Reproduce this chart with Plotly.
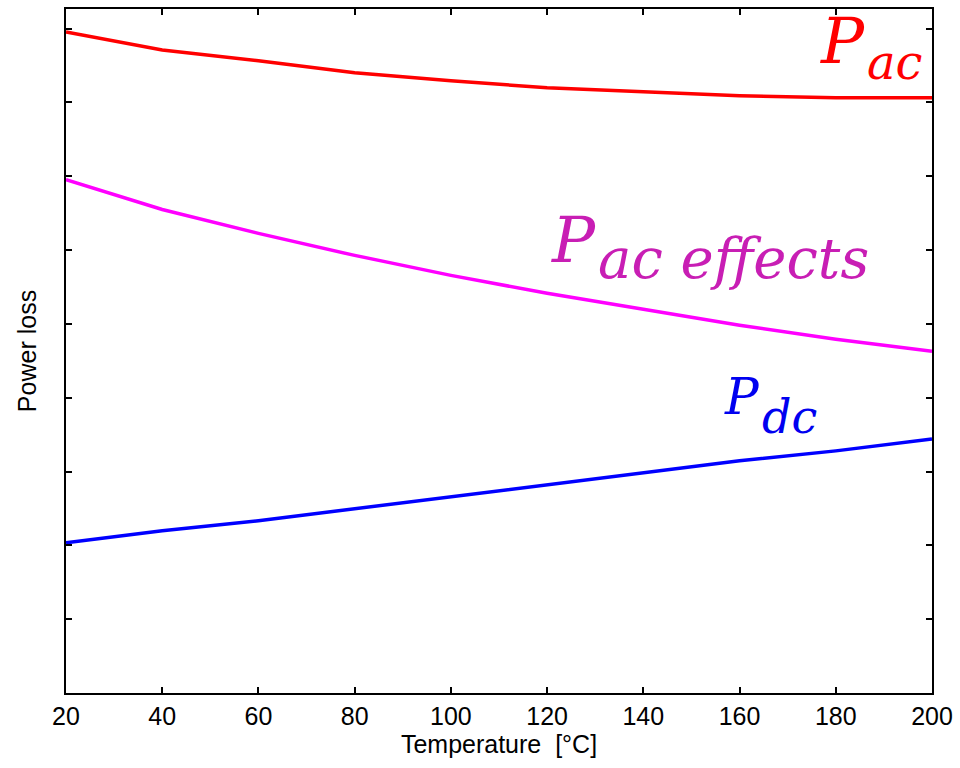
import plotly.graph_objects as go

temperature = [20, 40, 60, 80, 100, 120, 140, 160, 180, 200]
p_ac = [8.955, 8.712, 8.564, 8.401, 8.293, 8.199, 8.145, 8.091, 8.064, 8.064]
p_ac_effects = [6.955, 6.550, 6.226, 5.928, 5.658, 5.415, 5.199, 4.982, 4.793, 4.631]
p_dc = [2.036, 2.199, 2.334, 2.496, 2.658, 2.820, 2.982, 3.145, 3.280, 3.442]
x_ticks = [20, 40, 60, 80, 100, 120, 140, 160, 180, 200]
y_ticks = [0, 1, 2, 3, 4, 5, 6, 7, 8, 9]

fig = go.Figure()
fig.add_trace(go.Scatter(x=temperature, y=p_ac, mode="lines",
                         line=dict(color="#FF0000", width=3.5), name="Pac"))
fig.add_trace(go.Scatter(x=temperature, y=p_ac_effects, mode="lines",
                         line=dict(color="#FF00FF", width=3.5), name="Pac effects"))
fig.add_trace(go.Scatter(x=temperature, y=p_dc, mode="lines",
                         line=dict(color="#0000FF", width=3.5), name="Pdc"))

serif = "DejaVu Serif"
labels = [
    # (x join, y main, y sub, main, sub, main size, sub size, color)
    (186.3, 8.834, 8.551, "P", "ac", 64, 48, "#FF0000"),
    (130.4, 6.131, 5.885, "P", "ac effects", 64, 56, "#C81EB4"),
    (164.4, 4.016, 3.740, "P", "dc", 50, 46, "#0000F0"),
]
for x, ym, ys, m, s, ms, ss, c in labels:
    fig.add_annotation(x=x, y=ym, xref="x", yref="y", text=m, showarrow=False,
                       xanchor="right", yanchor="middle", borderpad=0,
                       font=dict(family=serif, size=ms, color=c, style="italic"))
    fig.add_annotation(x=x, y=ys, xref="x", yref="y", text=s, showarrow=False,
                       xanchor="left", yanchor="middle", borderpad=0,
                       font=dict(family=serif, size=ss, color=c, style="italic"))

axis_common = dict(showline=True, linecolor="black", linewidth=2, mirror="ticks",
                   ticks="inside", ticklen=6, tickcolor="black", tickwidth=1.5,
                   showgrid=False, zeroline=False)

fig.update_xaxes(range=[20, 200], tickvals=x_ticks, ticktext=[str(v) for v in x_ticks],
                 ticklabeloverflow="allow",
                 tickfont=dict(family="Liberation Sans, Arial", size=25, color="black"),
                 title=dict(text="Temperature  [°C]", standoff=6,
                            font=dict(family="Liberation Sans, Arial", size=25, color="black")),
                 **axis_common)
fig.update_yaxes(range=[0, 9.266], tickvals=y_ticks, showticklabels=False,
                 title=dict(text="Power loss", standoff=20,
                            font=dict(family="Liberation Sans, Arial", size=25, color="black")),
                 **axis_common)

fig.update_layout(width=960, height=768, showlegend=False,
                  plot_bgcolor="white", paper_bgcolor="white",
                  margin=dict(l=66, r=26, t=7, b=75))

fig.write_html("out.html", config={"displayModeBar": False},
               post_script="document.body.style.margin='0';document.body.style.overflow='hidden';")
